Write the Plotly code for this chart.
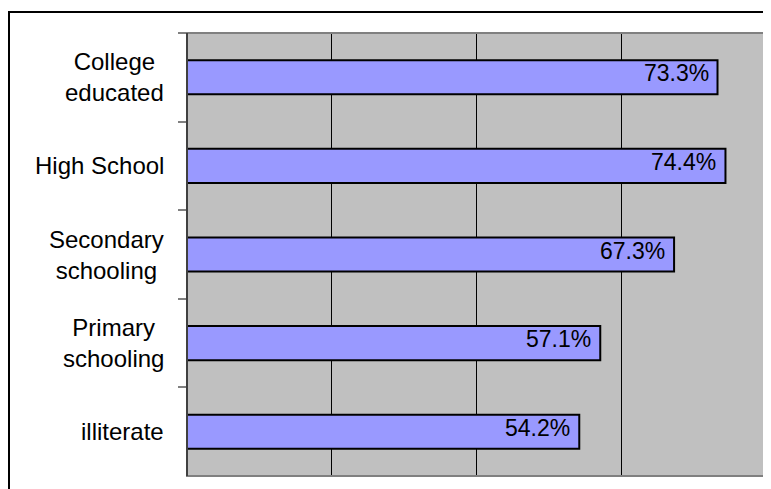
import plotly.graph_objects as go

categories = ["College<br>educated", "High School", "Secondary<br>schooling", "Primary<br>schooling", "illiterate"]
values = [73.3, 74.4, 67.3, 57.1, 54.2]
value_labels = ["73.3%", "74.4%", "67.3%", "57.1%", "54.2%"]

# page has an 8px body margin, so figure coordinates are offset by 8px
OFF = 8
W, H = 771, 489
L = 187 - OFF
T = 33 - OFF
R = W - (766 - OFF)
B = H - (476 - OFF)
pw, ph = W - L - R, H - T - B

fig = go.Figure()
fig.add_trace(go.Bar(
    x=values, y=categories, orientation="h",
    marker=dict(color="#9999FF", line=dict(color="black", width=2)),
    width=0.385, hoverinfo="skip",
))

annotations = []
for c, v, t in zip(categories, values, value_labels):
    annotations.append(dict(x=v, y=c, xref="x", yref="y", text=t, showarrow=False,
                            xanchor="right", yanchor="middle", xshift=-7, yshift=4,
                            font=dict(family="Liberation Sans, Arial", size=23, color="black")))
    annotations.append(dict(x=(166 - OFF - L) / pw, y=c, xref="paper", yref="y", text=c, showarrow=False,
                            xanchor="right", yanchor="middle", align="center",
                            font=dict(family="Liberation Sans, Arial", size=24, color="black")))

shapes = [
    # outer chart border (extends past image edges)
    dict(type="rect", xref="paper", yref="paper",
         x0=(1 - L) / pw, x1=1 + 80 / pw, y0=-80 / ph, y1=1 + (T - 4) / ph,
         line=dict(color="black", width=2), fillcolor="rgba(0,0,0,0)", layer="below"),
    # plot area border
    dict(type="rect", xref="paper", yref="paper", x0=0, x1=1, y0=0, y1=1,
         line=dict(color="#808080", width=2), fillcolor="rgba(0,0,0,0)", layer="above"),
    dict(type="line", xref="paper", yref="paper", x0=0, x1=0, y0=0, y1=1,
         line=dict(color="#404040", width=2), layer="above"),
]

fig.update_layout(
    width=W, height=H,
    margin=dict(l=L, r=R, t=T, b=B, pad=0),
    paper_bgcolor="white", plot_bgcolor="#C0C0C0",
    showlegend=False,
    annotations=annotations, shapes=shapes,
    xaxis=dict(range=[0, 80], dtick=20, showgrid=True, gridcolor="black", gridwidth=1,
               showticklabels=False, zeroline=False, showline=False, ticks="", fixedrange=True),
    yaxis=dict(type="category", autorange="reversed", tickson="boundaries", ticks="outside",
               ticklen=8, tickwidth=2, tickcolor="#808080", showticklabels=False,
               showgrid=False, zeroline=False, showline=False, fixedrange=True),
)

fig.write_html("out.html")
